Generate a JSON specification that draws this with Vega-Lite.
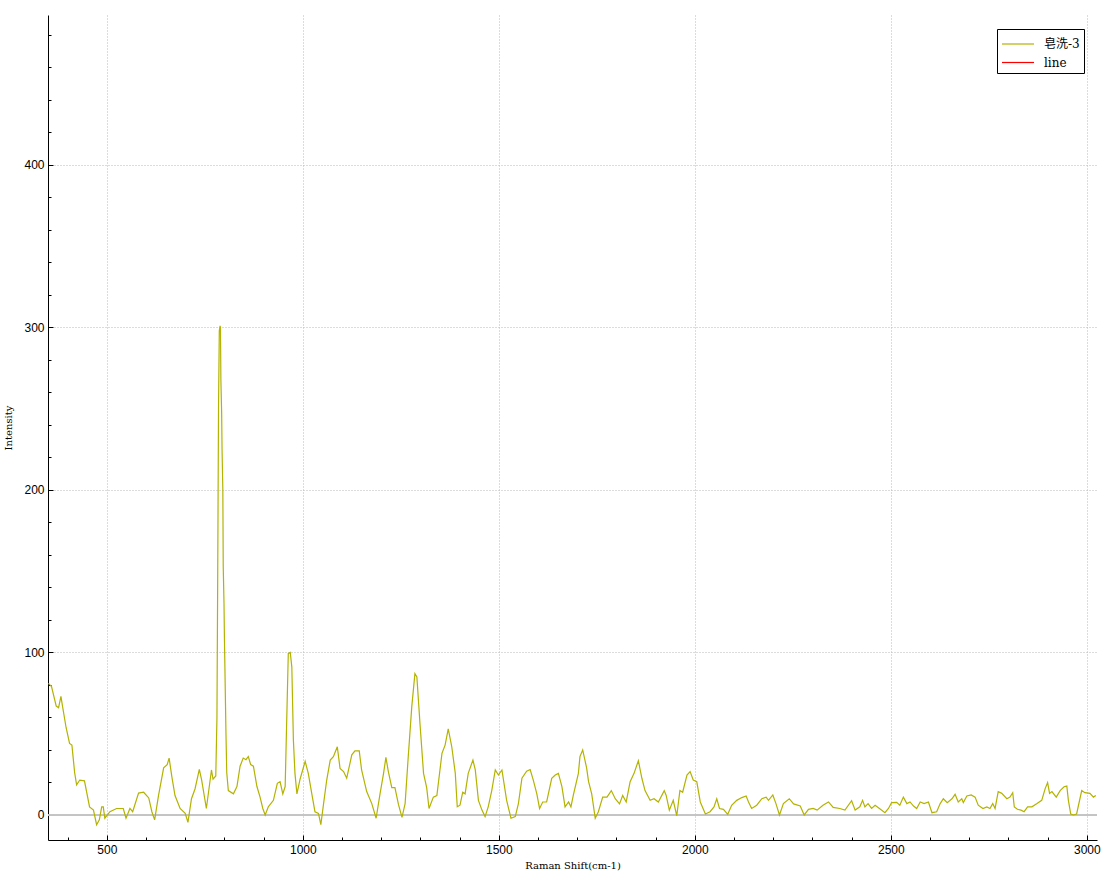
{
  "$schema": "https://vega.github.io/schema/vega-lite/v6.json",
  "width": 1049,
  "height": 825,
  "autosize": "none",
  "padding": {"left": 48, "top": 15, "right": 21, "bottom": 42},
  "background": "white",
  "config": {
    "view": {"stroke": null},
    "axis": {
      "labelFont": "Liberation Sans",
      "labelFontSize": 12,
      "labelColor": "#000000",
      "titleFont": "DejaVu Serif",
      "titleFontSize": 10,
      "titleFontWeight": "normal",
      "titleColor": "#000000",
      "domainColor": "#000000",
      "tickColor": "#000000",
      "gridColor": "#b8b8b8",
      "gridDash": [1, 2]
    },
    "legend": {
      "symbolType": "M-1,0H2.2",
      "symbolSize": 400,
      "symbolStrokeWidth": 1.2,
      "labelFont": "DejaVu Serif, Noto Sans CJK SC",
      "labelFontSize": 12,
      "labelColor": "#000000",
      "strokeColor": "#000000",
      "fillColor": "#ffffff",
      "padding": 4,
      "rowPadding": 1.5,
      "labelOffset": 21
    }
  },
  "data": {
    "values": [
      {"x": 351, "y": 81, "s": "皂洗-3"},
      {"x": 359, "y": 79, "s": "皂洗-3"},
      {"x": 371, "y": 67, "s": "皂洗-3"},
      {"x": 377, "y": 66, "s": "皂洗-3"},
      {"x": 383, "y": 73, "s": "皂洗-3"},
      {"x": 387, "y": 67, "s": "皂洗-3"},
      {"x": 396, "y": 54, "s": "皂洗-3"},
      {"x": 405, "y": 44, "s": "皂洗-3"},
      {"x": 411, "y": 43, "s": "皂洗-3"},
      {"x": 418, "y": 26, "s": "皂洗-3"},
      {"x": 423, "y": 18.5, "s": "皂洗-3"},
      {"x": 431, "y": 21.5, "s": "皂洗-3"},
      {"x": 443, "y": 21, "s": "皂洗-3"},
      {"x": 456, "y": 5, "s": "皂洗-3"},
      {"x": 466, "y": 3, "s": "皂洗-3"},
      {"x": 474, "y": -6, "s": "皂洗-3"},
      {"x": 481, "y": -3, "s": "皂洗-3"},
      {"x": 487, "y": 5, "s": "皂洗-3"},
      {"x": 491, "y": 5, "s": "皂洗-3"},
      {"x": 495, "y": -2, "s": "皂洗-3"},
      {"x": 508, "y": 2, "s": "皂洗-3"},
      {"x": 525, "y": 4, "s": "皂洗-3"},
      {"x": 542, "y": 4, "s": "皂洗-3"},
      {"x": 549, "y": -2, "s": "皂洗-3"},
      {"x": 559, "y": 4, "s": "皂洗-3"},
      {"x": 566, "y": 2, "s": "皂洗-3"},
      {"x": 581, "y": 13.5, "s": "皂洗-3"},
      {"x": 594, "y": 14, "s": "皂洗-3"},
      {"x": 607, "y": 10.5, "s": "皂洗-3"},
      {"x": 615, "y": 2, "s": "皂洗-3"},
      {"x": 622, "y": -3, "s": "皂洗-3"},
      {"x": 632, "y": 12, "s": "皂洗-3"},
      {"x": 645, "y": 29, "s": "皂洗-3"},
      {"x": 654, "y": 31, "s": "皂洗-3"},
      {"x": 659, "y": 35, "s": "皂洗-3"},
      {"x": 666, "y": 23.5, "s": "皂洗-3"},
      {"x": 674, "y": 12, "s": "皂洗-3"},
      {"x": 687, "y": 4, "s": "皂洗-3"},
      {"x": 700, "y": 1, "s": "皂洗-3"},
      {"x": 707, "y": -4.5, "s": "皂洗-3"},
      {"x": 716, "y": 10, "s": "皂洗-3"},
      {"x": 725, "y": 16, "s": "皂洗-3"},
      {"x": 736, "y": 28, "s": "皂洗-3"},
      {"x": 742, "y": 21.5, "s": "皂洗-3"},
      {"x": 754, "y": 4, "s": "皂洗-3"},
      {"x": 767, "y": 27.7, "s": "皂洗-3"},
      {"x": 771, "y": 22, "s": "皂洗-3"},
      {"x": 778, "y": 24, "s": "皂洗-3"},
      {"x": 781, "y": 60, "s": "皂洗-3"},
      {"x": 783, "y": 150, "s": "皂洗-3"},
      {"x": 785, "y": 250, "s": "皂洗-3"},
      {"x": 787, "y": 298, "s": "皂洗-3"},
      {"x": 789, "y": 301, "s": "皂洗-3"},
      {"x": 790, "y": 300, "s": "皂洗-3"},
      {"x": 791, "y": 268, "s": "皂洗-3"},
      {"x": 793, "y": 247, "s": "皂洗-3"},
      {"x": 794, "y": 225, "s": "皂洗-3"},
      {"x": 796, "y": 200, "s": "皂洗-3"},
      {"x": 797, "y": 153, "s": "皂洗-3"},
      {"x": 799, "y": 130, "s": "皂洗-3"},
      {"x": 800, "y": 110, "s": "皂洗-3"},
      {"x": 802, "y": 80, "s": "皂洗-3"},
      {"x": 804, "y": 50, "s": "皂洗-3"},
      {"x": 806, "y": 26, "s": "皂洗-3"},
      {"x": 810, "y": 15, "s": "皂洗-3"},
      {"x": 823, "y": 13, "s": "皂洗-3"},
      {"x": 832, "y": 17.5, "s": "皂洗-3"},
      {"x": 840, "y": 30, "s": "皂洗-3"},
      {"x": 848, "y": 35, "s": "皂洗-3"},
      {"x": 855, "y": 34, "s": "皂洗-3"},
      {"x": 861, "y": 36, "s": "皂洗-3"},
      {"x": 867, "y": 31, "s": "皂洗-3"},
      {"x": 874, "y": 30, "s": "皂洗-3"},
      {"x": 883, "y": 17.5, "s": "皂洗-3"},
      {"x": 891, "y": 11, "s": "皂洗-3"},
      {"x": 898, "y": 4, "s": "皂洗-3"},
      {"x": 904, "y": 0, "s": "皂洗-3"},
      {"x": 912, "y": 5, "s": "皂洗-3"},
      {"x": 925, "y": 9, "s": "皂洗-3"},
      {"x": 935, "y": 19.5, "s": "皂洗-3"},
      {"x": 942, "y": 20.5, "s": "皂洗-3"},
      {"x": 949, "y": 13, "s": "皂洗-3"},
      {"x": 955, "y": 17.5, "s": "皂洗-3"},
      {"x": 963, "y": 99.5, "s": "皂洗-3"},
      {"x": 968, "y": 100, "s": "皂洗-3"},
      {"x": 972, "y": 91, "s": "皂洗-3"},
      {"x": 976, "y": 46, "s": "皂洗-3"},
      {"x": 980, "y": 25.6, "s": "皂洗-3"},
      {"x": 985, "y": 13, "s": "皂洗-3"},
      {"x": 993, "y": 22, "s": "皂洗-3"},
      {"x": 1006, "y": 33, "s": "皂洗-3"},
      {"x": 1014, "y": 25.6, "s": "皂洗-3"},
      {"x": 1023, "y": 13, "s": "皂洗-3"},
      {"x": 1031, "y": 2, "s": "皂洗-3"},
      {"x": 1040, "y": 1, "s": "皂洗-3"},
      {"x": 1046, "y": -6, "s": "皂洗-3"},
      {"x": 1053, "y": 7, "s": "皂洗-3"},
      {"x": 1061, "y": 21.5, "s": "皂洗-3"},
      {"x": 1070, "y": 33.8, "s": "皂洗-3"},
      {"x": 1078, "y": 35.9, "s": "皂洗-3"},
      {"x": 1088, "y": 42, "s": "皂洗-3"},
      {"x": 1095, "y": 28.7, "s": "皂洗-3"},
      {"x": 1104, "y": 26.7, "s": "皂洗-3"},
      {"x": 1112, "y": 22.6, "s": "皂洗-3"},
      {"x": 1125, "y": 37, "s": "皂洗-3"},
      {"x": 1133, "y": 39.4, "s": "皂洗-3"},
      {"x": 1144, "y": 39.4, "s": "皂洗-3"},
      {"x": 1150, "y": 27.7, "s": "皂洗-3"},
      {"x": 1163, "y": 14.4, "s": "皂洗-3"},
      {"x": 1176, "y": 7, "s": "皂洗-3"},
      {"x": 1187, "y": -2, "s": "皂洗-3"},
      {"x": 1197, "y": 13, "s": "皂洗-3"},
      {"x": 1206, "y": 25.6, "s": "皂洗-3"},
      {"x": 1212, "y": 35.5, "s": "皂洗-3"},
      {"x": 1218, "y": 27, "s": "皂洗-3"},
      {"x": 1227, "y": 16.8, "s": "皂洗-3"},
      {"x": 1235, "y": 16.8, "s": "皂洗-3"},
      {"x": 1244, "y": 6.5, "s": "皂洗-3"},
      {"x": 1253, "y": -1.5, "s": "皂洗-3"},
      {"x": 1261, "y": 7, "s": "皂洗-3"},
      {"x": 1269, "y": 35.9, "s": "皂洗-3"},
      {"x": 1278, "y": 66.7, "s": "皂洗-3"},
      {"x": 1286, "y": 87, "s": "皂洗-3"},
      {"x": 1291, "y": 85, "s": "皂洗-3"},
      {"x": 1299, "y": 56, "s": "皂洗-3"},
      {"x": 1308, "y": 25.6, "s": "皂洗-3"},
      {"x": 1316, "y": 16.8, "s": "皂洗-3"},
      {"x": 1322, "y": 4, "s": "皂洗-3"},
      {"x": 1333, "y": 11, "s": "皂洗-3"},
      {"x": 1342, "y": 12, "s": "皂洗-3"},
      {"x": 1355, "y": 37.9, "s": "皂洗-3"},
      {"x": 1363, "y": 43, "s": "皂洗-3"},
      {"x": 1371, "y": 53, "s": "皂洗-3"},
      {"x": 1380, "y": 42, "s": "皂洗-3"},
      {"x": 1389, "y": 25.6, "s": "皂洗-3"},
      {"x": 1394, "y": 5, "s": "皂洗-3"},
      {"x": 1401, "y": 6, "s": "皂洗-3"},
      {"x": 1408, "y": 14, "s": "皂洗-3"},
      {"x": 1414, "y": 13, "s": "皂洗-3"},
      {"x": 1422, "y": 25.6, "s": "皂洗-3"},
      {"x": 1434, "y": 33.8, "s": "皂洗-3"},
      {"x": 1440, "y": 27.7, "s": "皂洗-3"},
      {"x": 1448, "y": 9, "s": "皂洗-3"},
      {"x": 1457, "y": 3, "s": "皂洗-3"},
      {"x": 1465, "y": -1, "s": "皂洗-3"},
      {"x": 1473, "y": 5, "s": "皂洗-3"},
      {"x": 1482, "y": 15, "s": "皂洗-3"},
      {"x": 1491, "y": 27.7, "s": "皂洗-3"},
      {"x": 1499, "y": 24.6, "s": "皂洗-3"},
      {"x": 1508, "y": 27.7, "s": "皂洗-3"},
      {"x": 1520, "y": 9, "s": "皂洗-3"},
      {"x": 1531, "y": -2, "s": "皂洗-3"},
      {"x": 1542, "y": -1, "s": "皂洗-3"},
      {"x": 1550, "y": 7, "s": "皂洗-3"},
      {"x": 1559, "y": 22.6, "s": "皂洗-3"},
      {"x": 1571, "y": 27, "s": "皂洗-3"},
      {"x": 1580, "y": 28, "s": "皂洗-3"},
      {"x": 1588, "y": 21.5, "s": "皂洗-3"},
      {"x": 1597, "y": 13, "s": "皂洗-3"},
      {"x": 1604, "y": 4, "s": "皂洗-3"},
      {"x": 1612, "y": 8, "s": "皂洗-3"},
      {"x": 1622, "y": 8, "s": "皂洗-3"},
      {"x": 1635, "y": 22.6, "s": "皂洗-3"},
      {"x": 1644, "y": 24.6, "s": "皂洗-3"},
      {"x": 1652, "y": 25.6, "s": "皂洗-3"},
      {"x": 1661, "y": 17.5, "s": "皂洗-3"},
      {"x": 1669, "y": 5, "s": "皂洗-3"},
      {"x": 1678, "y": 8, "s": "皂洗-3"},
      {"x": 1684, "y": 5, "s": "皂洗-3"},
      {"x": 1690, "y": 12, "s": "皂洗-3"},
      {"x": 1703, "y": 25.6, "s": "皂洗-3"},
      {"x": 1707, "y": 35.9, "s": "皂洗-3"},
      {"x": 1714, "y": 40, "s": "皂洗-3"},
      {"x": 1724, "y": 29, "s": "皂洗-3"},
      {"x": 1729, "y": 20.5, "s": "皂洗-3"},
      {"x": 1737, "y": 13, "s": "皂洗-3"},
      {"x": 1746, "y": -2, "s": "皂洗-3"},
      {"x": 1754, "y": 2, "s": "皂洗-3"},
      {"x": 1765, "y": 11, "s": "皂洗-3"},
      {"x": 1776, "y": 11, "s": "皂洗-3"},
      {"x": 1787, "y": 15, "s": "皂洗-3"},
      {"x": 1797, "y": 10, "s": "皂洗-3"},
      {"x": 1808, "y": 6.8, "s": "皂洗-3"},
      {"x": 1816, "y": 12, "s": "皂洗-3"},
      {"x": 1825, "y": 8, "s": "皂洗-3"},
      {"x": 1835, "y": 20.5, "s": "皂洗-3"},
      {"x": 1845, "y": 25.6, "s": "皂洗-3"},
      {"x": 1856, "y": 33.4, "s": "皂洗-3"},
      {"x": 1865, "y": 22.6, "s": "皂洗-3"},
      {"x": 1873, "y": 15, "s": "皂洗-3"},
      {"x": 1886, "y": 9, "s": "皂洗-3"},
      {"x": 1896, "y": 10, "s": "皂洗-3"},
      {"x": 1907, "y": 8, "s": "皂洗-3"},
      {"x": 1922, "y": 15, "s": "皂洗-3"},
      {"x": 1927, "y": 12, "s": "皂洗-3"},
      {"x": 1935, "y": 3, "s": "皂洗-3"},
      {"x": 1945, "y": 9, "s": "皂洗-3"},
      {"x": 1954, "y": -0.5, "s": "皂洗-3"},
      {"x": 1962, "y": 15, "s": "皂洗-3"},
      {"x": 1969, "y": 14, "s": "皂洗-3"},
      {"x": 1980, "y": 24.6, "s": "皂洗-3"},
      {"x": 1988, "y": 26.7, "s": "皂洗-3"},
      {"x": 1996, "y": 21.5, "s": "皂洗-3"},
      {"x": 2005, "y": 20.5, "s": "皂洗-3"},
      {"x": 2014, "y": 8, "s": "皂洗-3"},
      {"x": 2027, "y": 0.6, "s": "皂洗-3"},
      {"x": 2039, "y": 2, "s": "皂洗-3"},
      {"x": 2049, "y": 5, "s": "皂洗-3"},
      {"x": 2056, "y": 10, "s": "皂洗-3"},
      {"x": 2063, "y": 4, "s": "皂洗-3"},
      {"x": 2073, "y": 3.5, "s": "皂洗-3"},
      {"x": 2084, "y": 0.4, "s": "皂洗-3"},
      {"x": 2094, "y": 6, "s": "皂洗-3"},
      {"x": 2107, "y": 9, "s": "皂洗-3"},
      {"x": 2120, "y": 10.7, "s": "皂洗-3"},
      {"x": 2131, "y": 11.7, "s": "皂洗-3"},
      {"x": 2137, "y": 8, "s": "皂洗-3"},
      {"x": 2145, "y": 4, "s": "皂洗-3"},
      {"x": 2158, "y": 6, "s": "皂洗-3"},
      {"x": 2171, "y": 10, "s": "皂洗-3"},
      {"x": 2182, "y": 11, "s": "皂洗-3"},
      {"x": 2188, "y": 9, "s": "皂洗-3"},
      {"x": 2199, "y": 12.3, "s": "皂洗-3"},
      {"x": 2207, "y": 7, "s": "皂洗-3"},
      {"x": 2216, "y": 0, "s": "皂洗-3"},
      {"x": 2226, "y": 7, "s": "皂洗-3"},
      {"x": 2241, "y": 10, "s": "皂洗-3"},
      {"x": 2252, "y": 6.8, "s": "皂洗-3"},
      {"x": 2269, "y": 5.5, "s": "皂洗-3"},
      {"x": 2279, "y": 0, "s": "皂洗-3"},
      {"x": 2290, "y": 3.5, "s": "皂洗-3"},
      {"x": 2302, "y": 4, "s": "皂洗-3"},
      {"x": 2312, "y": 3, "s": "皂洗-3"},
      {"x": 2327, "y": 6, "s": "皂洗-3"},
      {"x": 2341, "y": 8, "s": "皂洗-3"},
      {"x": 2353, "y": 4.7, "s": "皂洗-3"},
      {"x": 2370, "y": 4, "s": "皂洗-3"},
      {"x": 2383, "y": 3, "s": "皂洗-3"},
      {"x": 2400, "y": 8.8, "s": "皂洗-3"},
      {"x": 2409, "y": 3, "s": "皂洗-3"},
      {"x": 2421, "y": 5, "s": "皂洗-3"},
      {"x": 2428, "y": 9, "s": "皂洗-3"},
      {"x": 2434, "y": 5, "s": "皂洗-3"},
      {"x": 2442, "y": 7, "s": "皂洗-3"},
      {"x": 2451, "y": 4, "s": "皂洗-3"},
      {"x": 2460, "y": 6, "s": "皂洗-3"},
      {"x": 2471, "y": 4, "s": "皂洗-3"},
      {"x": 2485, "y": 1.4, "s": "皂洗-3"},
      {"x": 2494, "y": 4, "s": "皂洗-3"},
      {"x": 2502, "y": 7.6, "s": "皂洗-3"},
      {"x": 2515, "y": 7.8, "s": "皂洗-3"},
      {"x": 2523, "y": 6, "s": "皂洗-3"},
      {"x": 2532, "y": 11, "s": "皂洗-3"},
      {"x": 2541, "y": 7, "s": "皂洗-3"},
      {"x": 2549, "y": 8, "s": "皂洗-3"},
      {"x": 2558, "y": 5.5, "s": "皂洗-3"},
      {"x": 2566, "y": 4, "s": "皂洗-3"},
      {"x": 2575, "y": 8, "s": "皂洗-3"},
      {"x": 2585, "y": 7, "s": "皂洗-3"},
      {"x": 2596, "y": 8, "s": "皂洗-3"},
      {"x": 2605, "y": 1.4, "s": "皂洗-3"},
      {"x": 2617, "y": 2, "s": "皂洗-3"},
      {"x": 2626, "y": 7, "s": "皂洗-3"},
      {"x": 2634, "y": 10, "s": "皂洗-3"},
      {"x": 2644, "y": 7.6, "s": "皂洗-3"},
      {"x": 2656, "y": 10, "s": "皂洗-3"},
      {"x": 2664, "y": 12.7, "s": "皂洗-3"},
      {"x": 2672, "y": 8, "s": "皂洗-3"},
      {"x": 2681, "y": 10, "s": "皂洗-3"},
      {"x": 2685, "y": 7.6, "s": "皂洗-3"},
      {"x": 2694, "y": 11.7, "s": "皂洗-3"},
      {"x": 2705, "y": 12.3, "s": "皂洗-3"},
      {"x": 2715, "y": 11, "s": "皂洗-3"},
      {"x": 2723, "y": 6, "s": "皂洗-3"},
      {"x": 2735, "y": 4, "s": "皂洗-3"},
      {"x": 2745, "y": 5, "s": "皂洗-3"},
      {"x": 2753, "y": 4, "s": "皂洗-3"},
      {"x": 2760, "y": 7, "s": "皂洗-3"},
      {"x": 2766, "y": 4, "s": "皂洗-3"},
      {"x": 2774, "y": 14.4, "s": "皂洗-3"},
      {"x": 2783, "y": 13.3, "s": "皂洗-3"},
      {"x": 2796, "y": 10, "s": "皂洗-3"},
      {"x": 2804, "y": 11, "s": "皂洗-3"},
      {"x": 2811, "y": 13.7, "s": "皂洗-3"},
      {"x": 2815, "y": 5, "s": "皂洗-3"},
      {"x": 2823, "y": 3.5, "s": "皂洗-3"},
      {"x": 2832, "y": 3, "s": "皂洗-3"},
      {"x": 2840, "y": 2, "s": "皂洗-3"},
      {"x": 2849, "y": 5, "s": "皂洗-3"},
      {"x": 2860, "y": 5, "s": "皂洗-3"},
      {"x": 2873, "y": 7, "s": "皂洗-3"},
      {"x": 2885, "y": 9, "s": "皂洗-3"},
      {"x": 2894, "y": 16.4, "s": "皂洗-3"},
      {"x": 2900, "y": 19.9, "s": "皂洗-3"},
      {"x": 2905, "y": 13.3, "s": "皂洗-3"},
      {"x": 2911, "y": 14.4, "s": "皂洗-3"},
      {"x": 2922, "y": 11, "s": "皂洗-3"},
      {"x": 2932, "y": 15, "s": "皂洗-3"},
      {"x": 2942, "y": 17.4, "s": "皂洗-3"},
      {"x": 2949, "y": 17.8, "s": "皂洗-3"},
      {"x": 2953, "y": 9, "s": "皂洗-3"},
      {"x": 2959, "y": 0.6, "s": "皂洗-3"},
      {"x": 2966, "y": 0, "s": "皂洗-3"},
      {"x": 2974, "y": 0.6, "s": "皂洗-3"},
      {"x": 2987, "y": 15, "s": "皂洗-3"},
      {"x": 2995, "y": 13.7, "s": "皂洗-3"},
      {"x": 3008, "y": 13.3, "s": "皂洗-3"},
      {"x": 3017, "y": 11, "s": "皂洗-3"},
      {"x": 3023, "y": 12, "s": "皂洗-3"}
    ]
  },
  "encoding": {
    "x": {
      "field": "x",
      "type": "quantitative",
      "scale": {"domain": [350, 3026], "nice": false, "zero": false},
      "axis": {
        "title": "Raman Shift(cm-1)",
        "values": [400, 500, 600, 700, 800, 900, 1000, 1100, 1200, 1300, 1400, 1500, 1600, 1700, 1800, 1900, 2000, 2100, 2200, 2300, 2400, 2500, 2600, 2700, 2800, 2900, 3000],
        "labelExpr": "datum.value % 500 === 0 ? datum.label : ''",
        "format": "d",
        "grid": true,
        "gridOpacity": {"condition": {"test": "datum.value % 500 === 0", "value": 1}, "value": 0},
        "tickSize": {"condition": {"test": "datum.value % 500 === 0", "value": -5}, "value": -3},
        "labelPadding": 9,
        "titlePadding": 3,
        "labelFlush": false,
        "labelOverlap": false
      }
    },
    "y": {
      "field": "y",
      "type": "quantitative",
      "scale": {"domain": [-15.4, 492.3], "nice": false, "zero": false},
      "axis": {
        "title": "Intensity",
        "values": [0, 20, 40, 60, 80, 100, 120, 140, 160, 180, 200, 220, 240, 260, 280, 300, 320, 340, 360, 380, 400, 420, 440, 460, 480],
        "labelExpr": "datum.value % 100 === 0 ? datum.label : ''",
        "format": "d",
        "grid": true,
        "gridOpacity": {"condition": {"test": "datum.value % 100 === 0", "value": 1}, "value": 0},
        "tickSize": {"condition": {"test": "datum.value % 100 === 0", "value": -5}, "value": -3},
        "labelPadding": 9,
        "titlePadding": 10,
        "labelFlush": false,
        "labelOverlap": false
      }
    }
  },
  "layer": [
    {
      "mark": {"type": "rule", "color": "#c4c4c4", "strokeWidth": 1},
      "encoding": {"y": {"datum": 0}, "x": null}
    },
    {
      "mark": {"type": "line", "strokeWidth": 1.2, "clip": true, "interpolate": "linear"},
      "encoding": {
        "color": {
          "field": "s",
          "type": "nominal",
          "scale": {"domain": ["皂洗-3", "line"], "range": ["#b3b300", "#ff0000"]},
          "legend": {"title": null, "orient": "none", "legendX": 949, "legendY": 14}
        }
      }
    }
  ]
}
